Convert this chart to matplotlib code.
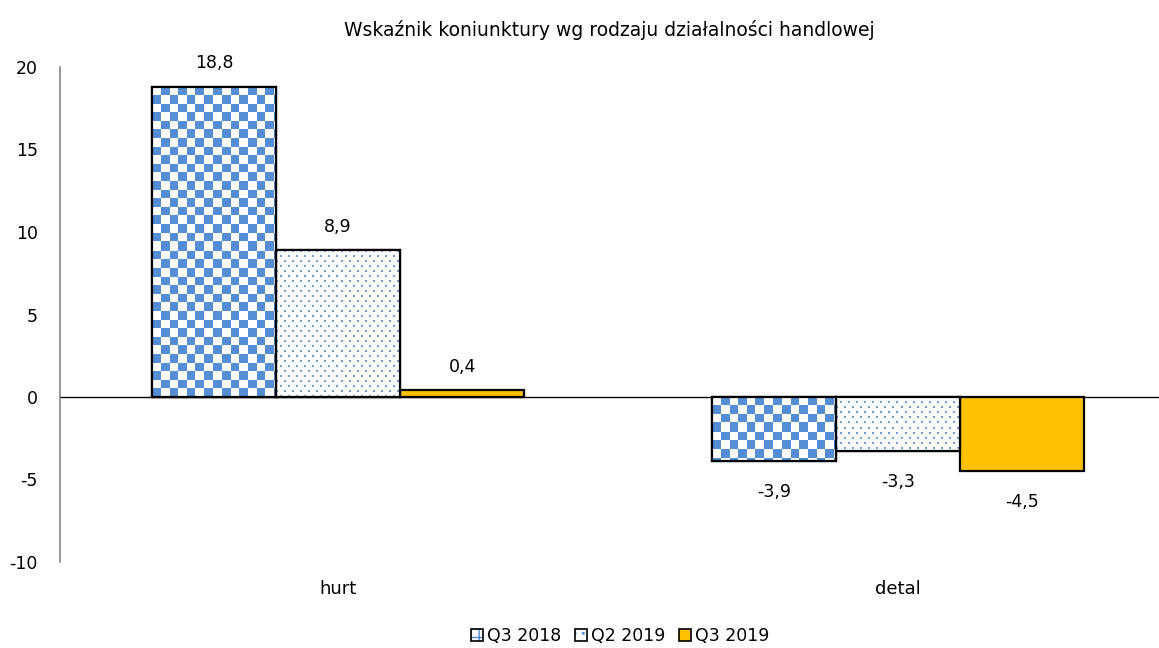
import numpy as np
import matplotlib
matplotlib.use("Agg")
import matplotlib.pyplot as plt
from matplotlib.patches import Patch
from matplotlib.legend_handler import HandlerTuple

# Data
categories = ["hurt", "detal"]
series = ["Q3 2018", "Q2 2019", "Q3 2019"]
q3_2018 = [18.8, -3.9]
q2_2019 = [8.9, -3.3]
q3_2019 = [0.4, -4.5]
values = [q3_2018, q2_2019, q3_2019]
labels_fmt = lambda v: f"{v:.1f}".replace(".", ",")

blue = "#558ED5"
gold = "#FFC000"

plt.rcParams["font.family"] = ["DejaVu Sans"]
plt.rcParams["axes.unicode_minus"] = False

fig = plt.figure(figsize=(11.59, 6.48), dpi=100)
ax = fig.add_axes([60 / 1159, 86 / 648, 1099 / 1159, 495 / 648])

x = np.arange(len(categories))
w = 0.2216
ax.set_xlim(-0.497, 1.467)
ax.set_ylim(-10, 20)


def texture(kind, hpx, wpx):
    img = np.ones((hpx, wpx, 3))
    c = np.array(matplotlib.colors.to_rgb(blue))
    yy, xx = np.mgrid[0:hpx, 0:wpx]
    if kind == "checker":
        mask = ((xx // 8.6).astype(int) + (yy // 8.6).astype(int)) % 2 == 1
        img[mask] = c
    else:
        row = (yy // 5).astype(int)
        mask = ((yy % 5) < 2) & (((xx + (row % 2) * 4) % 8) < 2)
        img[mask] = c * 0.85 + 0.15
    return img


for i, (name, vals) in enumerate(zip(series, values)):
    pos = x + (i - 1) * w
    bars = ax.bar(pos, vals, w, color=gold if i == 2 else "white",
                  edgecolor="black", linewidth=1.6, zorder=3)
    for b, v in zip(bars, vals):
        if i < 2:
            x0, x1 = b.get_x(), b.get_x() + b.get_width()
            y0, y1 = min(0, v), max(0, v)
            p0 = ax.transData.transform((x0, y0))
            p1 = ax.transData.transform((x1, y1))
            wpx = max(1, int(round(p1[0] - p0[0])))
            hpx = max(1, int(round(p1[1] - p0[1])))
            ax.imshow(texture("checker" if i == 0 else "dots", hpx, wpx),
                      extent=(x0, x1, y0, y1), interpolation="nearest",
                      aspect="auto", zorder=3.5)
            ax.bar(b.get_x() + w / 2, v, w, fill=False, edgecolor="black",
                   linewidth=1.6, zorder=4)
        off = 17 if v >= 0 else -22
        ax.annotate(labels_fmt(v), (b.get_x() + w / 2, v),
                    xytext=(0, off), textcoords="offset points",
                    ha="center", va="center", fontsize=12.5)

ax.axhline(0, color="black", linewidth=1, zorder=2)

ax.set_xticks(x)
ax.set_xticklabels(categories, fontsize=13)
ax.set_yticks(np.arange(-10, 21, 5))
ax.tick_params(axis="x", length=0, pad=13)
ax.tick_params(axis="y", length=0, pad=16, labelsize=12.5)
for s in ["top", "right", "bottom"]:
    ax.spines[s].set_visible(False)
ax.spines["left"].set_color("#868686")
ax.spines["left"].set_linewidth(1.2)

ax.set_title("Wskaźnik koniunktury wg rodzaju działalności handlowej",
             fontsize=13.5, pad=22)

handles = [
    (Patch(facecolor="white", edgecolor=blue, hatch="++", linewidth=0),
     Patch(fill=False, edgecolor="black", linewidth=1.2)),
    (Patch(facecolor="white", edgecolor=blue, hatch="..", linewidth=0),
     Patch(fill=False, edgecolor="black", linewidth=1.2)),
    Patch(facecolor=gold, edgecolor="black", linewidth=1.2),
]
fig.legend(handles, series, loc="center", bbox_to_anchor=(0.535, 12 / 648),
           ncol=3, frameon=False, fontsize=12.5, handlelength=0.7, handleheight=0.7,
           handletextpad=0.2, columnspacing=0.8,
           handler_map={tuple: HandlerTuple(ndivide=1)})

fig.savefig("out.png", dpi=100)
